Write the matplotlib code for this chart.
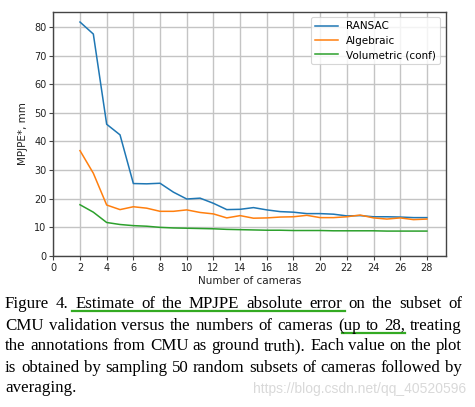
import matplotlib
matplotlib.use("Agg")
import matplotlib.pyplot as plt
from matplotlib.lines import Line2D

cameras = list(range(2, 29))
ransac = [81.7, 77.5, 46.0, 42.3, 25.3, 25.2, 25.4, 22.3, 19.9, 20.2, 18.4, 16.2, 16.3,
          16.9, 16.1, 15.5, 15.3, 14.8, 14.8, 14.6, 14.0, 14.1, 13.7, 13.7, 13.6, 13.4, 13.4]
algebraic = [36.8, 28.9, 17.8, 16.2, 17.2, 16.7, 15.6, 15.6, 16.1, 15.2, 14.7, 13.3, 14.1,
             13.2, 13.3, 13.6, 13.7, 14.2, 13.4, 13.4, 13.7, 14.3, 13.3, 12.9, 13.3, 12.7, 12.9]
volumetric = [17.9, 15.3, 11.7, 11.0, 10.6, 10.4, 10.0, 9.8, 9.7, 9.6, 9.5, 9.3, 9.2,
              9.1, 9.0, 9.0, 8.9, 8.9, 8.9, 8.8, 8.8, 8.8, 8.8, 8.7, 8.7, 8.7, 8.7]
series_names = ["RANSAC", "Algebraic", "Volumetric (conf)"]
series_colors = ["#1f77b4", "#ff7f0e", "#2ca02c"]
xticks = list(range(0, 29, 2))
yticks = list(range(0, 81, 10))

caption_lines = [
    "Figure 4. Estimate of the MPJPE absolute error on the subset of",
    "CMU validation versus the numbers of cameras (up to 28, treating",
    "the annotations from CMU as ground truth). Each value on the plot",
    "is obtained by sampling 50 random subsets of cameras followed by",
    "averaging.",
]
watermark = "https://blog.csdn.net/qq_40520596"

W, H = 475, 407
fig = plt.figure(figsize=(W / 100, H / 100), dpi=100)
ax = fig.add_axes([53.3 / W, 1 - 256 / H, (445.6 - 53.3) / W, (256 - 12) / H])

for vals, name, col in zip([ransac, algebraic, volumetric], series_names, series_colors):
    ax.plot(cameras, vals, color=col, lw=1.1, label=name)

ax.set_xlim(0, 29.4)
ax.set_ylim(0, 85.2)
ax.set_xticks(xticks)
ax.set_yticks(yticks)
ax.grid(True, color="#c4c4c4", lw=1.0)
ax.set_axisbelow(True)
for s in ax.spines.values():
    s.set_color("#444444")
    s.set_linewidth(1.0)
ax.tick_params(labelsize=7, length=3, width=0.8, color="#444444", labelcolor="#222222", pad=2)
ax.set_xlabel("Number of cameras", fontsize=7.5, color="#222222", labelpad=2)
ax.set_ylabel("MPJPE*, mm", fontsize=7.5, color="#222222", labelpad=4)
leg = ax.legend(loc="upper right", fontsize=7.5, frameon=True, handlelength=2.2,
                handletextpad=0.8, borderaxespad=0.5, labelspacing=0.42, fancybox=True)
leg.get_frame().set_edgecolor("#cccccc")
leg.get_frame().set_linewidth(0.8)

# Caption (justified), font size chosen so that the word gaps stay natural
renderer = fig.canvas.get_renderer()
left_px, right_px = 5, 462
baselines = [308, 329.5, 350.5, 371.5, 392]
min_gap = 4.3


def measure(words, fs):
    out = []
    for w in words:
        t = fig.text(0, 0, w, fontsize=fs, family="Liberation Serif")
        out.append(t.get_window_extent(renderer).width)
        t.remove()
    return out


fs = 14.0
while fs > 10:
    ok = True
    for line in caption_lines[:-1]:
        words = line.split(" ")
        ws = measure(words, fs)
        if (right_px - left_px - sum(ws)) / (len(words) - 1) < min_gap:
            ok = False
            break
    if ok:
        break
    fs -= 0.1

word_boxes = {}
for li, (line, base) in enumerate(zip(caption_lines, baselines)):
    words = line.split(" ")
    texts = []
    widths = []
    for w in words:
        t = fig.text(0, 1 - base / H, w, fontsize=fs, family="Liberation Serif",
                     color="black", va="baseline", ha="left")
        texts.append(t)
        widths.append(t.get_window_extent(renderer).width)
    if li < len(caption_lines) - 1 and len(words) > 1:
        gap = (right_px - left_px - sum(widths)) / (len(words) - 1)
    else:
        gap = min_gap
    x = left_px
    for w, t, wd in zip(words, texts, widths):
        t.set_x(x / W)
        word_boxes[(li, w)] = (x, x + wd)
        x += wd + gap

green = "#33aa22"
x0 = word_boxes[(0, "Estimate")][0] - 3
x1 = word_boxes[(0, "error")][1] + 3
fig.add_artist(Line2D([x0 / W, x1 / W], [1 - 310.5 / H] * 2, color=green, lw=1.6))
x0 = word_boxes[(1, "(up")][0] + 3
x1 = word_boxes[(1, "28,")][1]
fig.add_artist(Line2D([x0 / W, x1 / W], [1 - 332.5 / H] * 2, color=green, lw=1.6))

fig.text(466 / W, 1 - 393 / H, watermark, fontsize=10, family="Liberation Sans",
         color="#d9d9d9", ha="right", va="baseline")

fig.savefig("out.png", dpi=100)
